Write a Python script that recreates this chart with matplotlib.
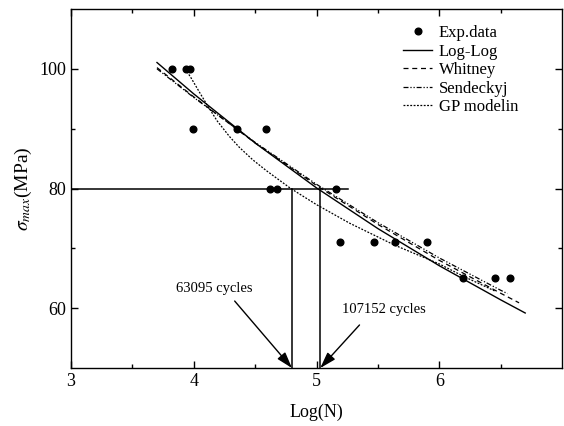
import matplotlib
matplotlib.use("Agg")
import matplotlib.pyplot as plt

plt.rcParams['font.family'] = ['Liberation Serif', 'DejaVu Serif']
plt.rcParams['mathtext.fontset'] = 'stix'

# Experimental data
exp_x = [3.82, 3.94, 3.97, 3.99, 4.355, 4.59, 4.62, 4.68, 5.16, 5.19, 5.47, 5.64, 5.90, 6.19, 6.455, 6.58]
exp_y = [100, 100, 100, 90, 90, 90, 80, 80, 80, 71, 71, 71, 71, 65, 65, 65]

# Model curves
loglog_x = [3.70, 4.0, 4.5, 5.0, 5.5, 6.0, 6.5, 6.70]
loglog_y = [101.05, 95.8, 87.6, 80.1, 73.3, 67.1, 61.4, 59.2]

whitney_x = [3.70, 4.0, 4.5, 5.0, 5.5, 6.0, 6.5, 6.65]
whitney_y = [100.2, 95.3, 87.6, 80.5, 74.0, 68.0, 62.5, 60.9]

sendeckyj_x = [3.70, 4.0, 4.5, 5.0, 5.5, 6.0, 6.5, 6.555]
sendeckyj_y = [100.0, 95.2, 87.7, 80.7, 74.3, 68.4, 63.0, 62.45]

gp_x = [3.93, 3.98, 4.04, 4.11, 4.19, 4.29, 4.37, 4.48, 4.59, 4.69, 4.79, 5.0, 5.27, 5.64, 6.0, 6.2, 6.45]
gp_y = [100.0, 98.4, 96.3, 93.9, 91.3, 88.7, 86.9, 84.8, 83.0, 81.5, 80.0, 77.3, 74.2, 70.5, 67.4, 65.3, 62.9]

# Reference lines
stress_level = 80
n_63095 = 4.80
n_107152 = 5.03
hline_end = 5.26

fig = plt.figure(figsize=(5.64, 4.26), dpi=100)
ax = fig.add_axes([0.126, 0.136, 0.8705, 0.843])

ax.plot(exp_x, exp_y, 'o', color='black', markersize=4.8, label='Exp.data')
ax.plot(loglog_x, loglog_y, '-', color='black', lw=1.0, label='Log-Log')
ax.plot(whitney_x, whitney_y, color='black', lw=0.9, dashes=(4, 3), label='Whitney')
ax.plot(sendeckyj_x, sendeckyj_y, color='black', lw=0.9, dashes=(4, 1.5, 1, 1.5, 1, 1.5), label='Sendeckyj')
ax.plot(gp_x, gp_y, color='black', lw=0.9, dashes=(1.5, 1.2), label='GP modelin')

ax.plot([3, hline_end], [stress_level, stress_level], '-', color='black', lw=1.1)
ax.plot([n_63095, n_63095], [50, stress_level], '-', color='black', lw=1.1)
ax.plot([n_107152, n_107152], [50, stress_level], '-', color='black', lw=1.1)

astyle = '-|>,head_length=0.7,head_width=0.22'
ax.annotate('', xy=(n_63095, 50), xytext=(4.333, 61.2),
            arrowprops=dict(arrowstyle=astyle, color='black', lw=1.0, mutation_scale=14, shrinkA=0, shrinkB=0))
ax.annotate('', xy=(n_107152, 50), xytext=(5.35, 57.2),
            arrowprops=dict(arrowstyle=astyle, color='black', lw=1.0, mutation_scale=14, shrinkA=0, shrinkB=0))
ax.text(4.17, 63.3, '63095 cycles', ha='center', va='center', fontsize=10.5)
ax.text(5.55, 59.8, '107152 cycles', ha='center', va='center', fontsize=10.5)

ax.set_xlim(3, 7)
ax.set_ylim(50, 110)
ax.set_xticks([3, 4, 5, 6])
ax.set_xticks([3.5, 4.5, 5.5, 6.5], minor=True)
ax.set_yticks([60, 80, 100])
ax.set_yticks([70, 90], minor=True)
ax.tick_params(which='both', direction='in', top=True, right=True, labelsize=13, width=1.0)
ax.tick_params(which='major', length=5)
ax.tick_params(which='minor', length=3)
for s in ax.spines.values():
    s.set_linewidth(1.0)

ax.set_xlabel('Log(N)', fontsize=13, labelpad=10)
ax.set_ylabel(r'$\sigma_{max}$(MPa)', fontsize=14, labelpad=4)

leg = ax.legend(loc='upper left', bbox_to_anchor=(0.676, 0.955), frameon=False,
                fontsize=12, handlelength=1.75, handletextpad=0.4, labelspacing=0.15,
                borderpad=0, borderaxespad=0)

fig.savefig('out.png', dpi=100)
